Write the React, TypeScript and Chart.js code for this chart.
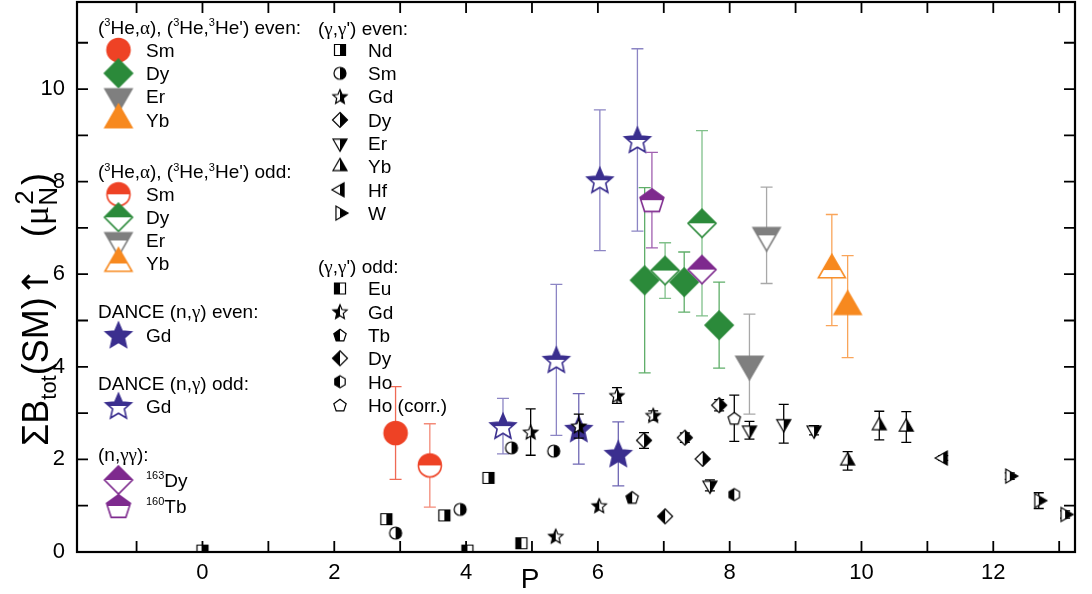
import { useEffect, useRef } from 'react';
import { Chart, registerables } from 'chart.js';

Chart.register(...registerables);

const SANS = '"Liberation Sans", Arial, Helvetica, sans-serif';
const SERIF = '"Liberation Serif", "Times New Roman", serif';
const ARROW = '"DejaVu Sans", sans-serif';

// ---------- data: pairing parameter P vs. summed M1 strength ----------
// (3He,α), (3He,3He') even-even nuclei
const heEvenSmP = [2.93];
const heEvenSmB = [2.57];
const heEvenSmErr = [1.0];
const heEvenDyP = [6.71, 7.31, 7.84];
const heEvenDyB = [5.87, 5.83, 4.9];
const heEvenDyErr = [2.0, 0.65, 0.93];
const heEvenErP = [8.3];
const heEvenErB = [4.06];
const heEvenErErr = [1.08];
const heEvenYbP = [9.79];
const heEvenYbB = [5.3];
const heEvenYbErr = [1.1];

// (3He,α), (3He,3He') odd nuclei
const heOddSmP = [3.45];
const heOddSmB = [1.87];
const heOddSmErr = [0.9];
const heOddDyP = [7.02, 7.58];
const heOddDyB = [6.08, 7.1];
const heOddDyErr = [0.6, 2.0];
const heOddErP = [8.56];
const heOddErB = [6.84];
const heOddErErr = [1.04];
const heOddYbP = [9.55];
const heOddYbB = [6.09];
const heOddYbErr = [1.2];

// DANCE (n,γ)
const danceEvenGdP = [5.71, 6.31];
const danceEvenGdB = [2.66, 2.12];
const danceEvenGdErr = [0.76, 0.69];
const danceOddGdP = [4.56, 5.37, 6.03, 6.6];
const danceOddGdB = [2.72, 4.15, 8.03, 8.9];
const danceOddGdErr = [0.6, 1.63, 1.52, 1.97];

// (n,γγ)
const nggDyP = [7.58];
const nggDyB = [6.1];
const nggTbP = [6.82];
const nggTbB = [7.6];
const nggTbErr = [1.03];

// (γ,γ') even
const ggNdP = [0, 2.79, 3.67, 4.34];
const ggNdB = [0.03, 0.71, 0.79, 1.6];
const ggSmP = [2.93, 3.91, 4.69, 5.33];
const ggSmB = [0.41, 0.92, 2.25, 2.18];
const ggGdP = [4.98, 5.71, 6.29, 6.84];
const ggGdB = [2.59, 2.72, 3.38, 2.95];
const ggGdErr = [0.5, 0.26, 0.17, 0.1];
const ggDyP = [6.7, 7.32, 7.59, 7.84];
const ggDyB = [2.41, 2.47, 2.01, 3.17];
const ggDyErr = [0.17, 0.1, 0.05, 0.12];
const ggErP = [7.7, 8.3, 8.82, 9.28];
const ggErB = [1.44, 2.63, 2.77, 2.63];
const ggErErr = [0.12, 0.19, 0.42, 0.1];
const ggYbP = [9.79, 10.27, 10.68];
const ggYbB = [1.97, 2.73, 2.7];
const ggYbErr = [0.2, 0.31, 0.33];
const ggHfP = [11.24];
const ggHfB = [2.03];
const ggHfErr = [0.05];
const ggWP = [12.25, 12.69, 13.09];
const ggWB = [1.64, 1.11, 0.81];
const ggWErr = [0.07, 0.17, 0.08];

// (γ,γ') odd
const ggEuP = [4.02, 4.84];
const ggEuB = [0.03, 0.19];
const ggOddGdP = [5.36, 6.02];
const ggOddGdB = [0.34, 1.0];
const ggTbP = [6.52];
const ggTbB = [1.18];
const ggOddDyP = [7.02];
const ggOddDyB = [0.77];
const ggHoP = [8.07];
const ggHoB = [1.24];
const ggHoCorrP = [8.07];
const ggHoCorrB = [2.89];
const ggHoCorrErr = [0.5];

// axes
const xRange = [-1.904, 13.24];
const yRange = [0, 11.88];
const xLabelled = [0, 2, 4, 6, 8, 10, 12];
const yLabelled = [0, 2, 4, 6, 8, 10];

// ---------- marker drawing ----------
type Shape =
  | 'circle' | 'square' | 'diamond' | 'triUp' | 'triDown'
  | 'triLeft' | 'triRight' | 'star' | 'pentagon' | 'hexagon';
type Fill = 'full' | 'left' | 'right' | 'top' | 'none';

function tracePath(ctx: CanvasRenderingContext2D, shape: Shape, cx: number, cy: number, s: number) {
  const r = s / 2;
  const poly = (pts: number[][]) => {
    ctx.moveTo(cx + pts[0][0], cy + pts[0][1]);
    for (let i = 1; i < pts.length; i++) ctx.lineTo(cx + pts[i][0], cy + pts[i][1]);
    ctx.closePath();
  };
  const h = s * 0.866;
  switch (shape) {
    case 'circle':
      ctx.arc(cx, cy, r, 0, Math.PI * 2);
      break;
    case 'square':
      ctx.rect(cx - r, cy - r, s, s);
      break;
    case 'diamond':
      poly([[0, -r], [r, 0], [0, r], [-r, 0]]);
      break;
    case 'triUp':
      poly([[0, (-2 * h) / 3], [r, h / 3], [-r, h / 3]]);
      break;
    case 'triDown':
      poly([[0, (2 * h) / 3], [r, -h / 3], [-r, -h / 3]]);
      break;
    case 'triLeft':
      poly([[(-2 * h) / 3, 0], [h / 3, -r], [h / 3, r]]);
      break;
    case 'triRight':
      poly([[(2 * h) / 3, 0], [-h / 3, -r], [-h / 3, r]]);
      break;
    case 'star': {
      const pts: number[][] = [];
      for (let k = 0; k < 10; k++) {
        const a = -Math.PI / 2 + (k * Math.PI) / 5;
        const rr = k % 2 === 0 ? r : r * 0.46;
        pts.push([rr * Math.cos(a), rr * Math.sin(a) + r * 0.08]);
      }
      poly(pts);
      break;
    }
    case 'pentagon': {
      const pts: number[][] = [];
      for (let k = 0; k < 5; k++) {
        const a = -Math.PI / 2 + (k * 2 * Math.PI) / 5;
        pts.push([r * Math.cos(a), r * Math.sin(a) + r * 0.1]);
      }
      poly(pts);
      break;
    }
    case 'hexagon': {
      const pts: number[][] = [];
      for (let k = 0; k < 6; k++) {
        const a = -Math.PI / 2 + (k * Math.PI) / 3;
        pts.push([r * Math.cos(a), r * Math.sin(a)]);
      }
      poly(pts);
      break;
    }
  }
}

function makeMarker(shape: Shape, size: number, color: string, fill: Fill, lw: number) {
  let d = Math.ceil(size * 1.3) + 4;
  if (d % 2) d += 1;
  const c = document.createElement('canvas');
  c.width = d;
  c.height = d;
  const ctx = c.getContext('2d')!;
  const cx = d / 2;
  const cy = d / 2;
  const path = () => {
    ctx.beginPath();
    tracePath(ctx, shape, cx, cy, size);
  };
  path();
  ctx.fillStyle = '#ffffff';
  ctx.fill();
  if (fill !== 'none') {
    ctx.save();
    path();
    ctx.clip();
    ctx.fillStyle = color;
    if (fill === 'full') ctx.fillRect(0, 0, d, d);
    else if (fill === 'right') ctx.fillRect(cx, 0, d, d);
    else if (fill === 'left') ctx.fillRect(0, 0, cx, d);
    else if (fill === 'top') ctx.fillRect(0, 0, d, cy);
    ctx.restore();
  }
  path();
  ctx.strokeStyle = color;
  ctx.lineWidth = lw;
  ctx.lineJoin = 'miter';
  ctx.stroke();
  return c;
}

// ---------- series ----------
const RED = '#ee4225';
const GREEN = '#2b8a3a';
const GRAY = '#7f7f7f';
const ORANGE = '#f7891f';
const BLUE = '#3b2f8f';
const PURPLE = '#7e2a8e';
const BLACK = '#000000';

interface Series {
  key: string;
  P: number[];
  B: number[];
  err?: number[];
  shape: Shape;
  size: number;
  color: string;
  fill: Fill;
  lw: number;
  errColor: string;
  cap: number;
  layer: number;
}

const big = (key: string, P: number[], B: number[], err: number[] | undefined, shape: Shape, size: number, color: string, fill: Fill, errColor: string, layer = 2): Series => ({
  key, P, B, err, shape, size, color, fill, lw: 1.6, errColor, cap: 12, layer,
});
const small = (key: string, P: number[], B: number[], err: number[] | undefined, shape: Shape, size: number, fill: Fill): Series => ({
  key, P, B, err, shape, size, color: BLACK, fill, lw: 1.2, errColor: BLACK, cap: 10, layer: 0,
});

const SERIES: Series[] = [
  big('heEvenSm', heEvenSmP, heEvenSmB, heEvenSmErr, 'circle', 23, RED, 'full', '#ef6a55'),
  big('heEvenDy', heEvenDyP, heEvenDyB, heEvenDyErr, 'diamond', 28, GREEN, 'full', '#5fae69'),
  big('heEvenEr', heEvenErP, heEvenErB, heEvenErErr, 'triDown', 27, GRAY, 'full', '#a8a8a8'),
  big('heEvenYb', heEvenYbP, heEvenYbB, heEvenYbErr, 'triUp', 27, ORANGE, 'full', '#f9a55a'),
  big('heOddSm', heOddSmP, heOddSmB, heOddSmErr, 'circle', 23, RED, 'top', '#f38a78'),
  big('heOddDy', heOddDyP, heOddDyB, heOddDyErr, 'diamond', 28, GREEN, 'top', '#80c08a'),
  big('heOddEr', heOddErP, heOddErB, heOddErErr, 'triDown', 27, GRAY, 'top', '#a8a8a8'),
  big('heOddYb', heOddYbP, heOddYbB, heOddYbErr, 'triUp', 27, ORANGE, 'top', '#f9a55a'),
  big('danceEvenGd', danceEvenGdP, danceEvenGdB, danceEvenGdErr, 'star', 27, BLUE, 'full', '#6f67b4'),
  big('danceOddGd', danceOddGdP, danceOddGdB, danceOddGdErr, 'star', 27, BLUE, 'top', '#8c85c4'),
  big('nggDy', nggDyP, nggDyB, undefined, 'diamond', 28, PURPLE, 'top', '#a060b0', 1),
  big('nggTb', nggTbP, nggTbB, nggTbErr, 'pentagon', 25, PURPLE, 'top', '#a060b0', 1),
  small('ggNd', ggNdP, ggNdB, undefined, 'square', 11, 'right'),
  small('ggSm', ggSmP, ggSmB, undefined, 'circle', 12, 'right'),
  small('ggGd', ggGdP, ggGdB, ggGdErr, 'star', 15, 'right'),
  small('ggDy', ggDyP, ggDyB, ggDyErr, 'diamond', 15, 'right'),
  small('ggEr', ggErP, ggErB, ggErErr, 'triDown', 14, 'right'),
  small('ggYb', ggYbP, ggYbB, ggYbErr, 'triUp', 14, 'right'),
  small('ggHf', ggHfP, ggHfB, ggHfErr, 'triLeft', 14, 'right'),
  small('ggW', ggWP, ggWB, ggWErr, 'triRight', 14, 'right'),
  small('ggEu', ggEuP, ggEuB, undefined, 'square', 11, 'left'),
  small('ggOddGd', ggOddGdP, ggOddGdB, undefined, 'star', 15, 'left'),
  small('ggTb', ggTbP, ggTbB, undefined, 'pentagon', 13, 'left'),
  small('ggOddDy', ggOddDyP, ggOddDyB, undefined, 'diamond', 15, 'left'),
  small('ggHo', ggHoP, ggHoB, undefined, 'hexagon', 12, 'left'),
  small('ggHoCorr', ggHoCorrP, ggHoCorrB, ggHoCorrErr, 'pentagon', 13, 'none'),
];

// ---------- rich text ----------
type Seg = { t: string; k?: 'sup' | 'sub' | 'subsup'; t2?: string; serif?: boolean; fam?: string; rel?: number };

const fontFor = (size: number, s: Seg) =>
  `${s.k ? Math.round(size * (s.rel || 0.6)) : size}px ${s.fam || (s.serif ? SERIF : SANS)}`;

function drawRich(ctx: CanvasRenderingContext2D, segs: Seg[], x: number, baseline: number, size: number) {
  ctx.textAlign = 'left';
  ctx.textBaseline = 'alphabetic';
  let cx = x;
  for (const s of segs) {
    ctx.font = fontFor(size, s);
    if (!s.k) {
      ctx.fillText(s.t, cx, baseline);
      cx += ctx.measureText(s.t).width;
    } else if (s.k === 'sup') {
      ctx.fillText(s.t, cx, baseline - size * 0.4);
      cx += ctx.measureText(s.t).width;
    } else if (s.k === 'sub') {
      ctx.fillText(s.t, cx, baseline + size * 0.22);
      cx += ctx.measureText(s.t).width;
    } else {
      ctx.fillText(s.t, cx, baseline + size * 0.24);
      ctx.fillText(s.t2 || '', cx + 1, baseline - size * 0.42);
      cx += Math.max(ctx.measureText(s.t).width, ctx.measureText(s.t2 || '').width) + 2;
    }
  }
}

// ---------- legend ----------
const T = (t: string): Seg => ({ t });
const G = (t: string): Seg => ({ t, serif: true });
const SUP = (t: string): Seg => ({ t, k: 'sup' });

const heHeader = (parity: string): Seg[] => [
  T('('), SUP('3'), T('He,'), G('α'), T('), ('), SUP('3'), T('He,'), SUP('3'), T(`He') ${parity}:`),
];
const ggHeader = (parity: string): Seg[] => [T('('), G('γ'), T(','), G('γ'), T(`') ${parity}:`)];

interface LegendRow { y: number; segs: Seg[]; key?: string }

const legendCol1: LegendRow[] = [
  { y: 27, segs: heHeader('even') },
  { y: 50, key: 'heEvenSm', segs: [T('Sm')] },
  { y: 73.3, key: 'heEvenDy', segs: [T('Dy')] },
  { y: 96.6, key: 'heEvenEr', segs: [T('Er')] },
  { y: 119.9, key: 'heEvenYb', segs: [T('Yb')] },
  { y: 171.5, segs: heHeader('odd') },
  { y: 194.3, key: 'heOddSm', segs: [T('Sm')] },
  { y: 217.3, key: 'heOddDy', segs: [T('Dy')] },
  { y: 240.5, key: 'heOddEr', segs: [T('Er')] },
  { y: 263.5, key: 'heOddYb', segs: [T('Yb')] },
  { y: 311.5, segs: [T('DANCE (n,'), G('γ'), T(') even:')] },
  { y: 335, key: 'danceEvenGd', segs: [T('Gd')] },
  { y: 383, segs: [T('DANCE (n,'), G('γ'), T(') odd:')] },
  { y: 406, key: 'danceOddGd', segs: [T('Gd')] },
  { y: 454, segs: [T('(n,'), G('γγ'), T('):')] },
  { y: 480, key: 'nggDy', segs: [SUP('163'), T('Dy')] },
  { y: 506, key: 'nggTb', segs: [SUP('160'), T('Tb')] },
];

const legendCol2: LegendRow[] = [
  { y: 28, segs: ggHeader('even') },
  { y: 50, key: 'ggNd', segs: [T('Nd')] },
  { y: 73.3, key: 'ggSm', segs: [T('Sm')] },
  { y: 96.6, key: 'ggGd', segs: [T('Gd')] },
  { y: 119.9, key: 'ggDy', segs: [T('Dy')] },
  { y: 143.2, key: 'ggEr', segs: [T('Er')] },
  { y: 166.5, key: 'ggYb', segs: [T('Yb')] },
  { y: 189.8, key: 'ggHf', segs: [T('Hf')] },
  { y: 213.1, key: 'ggW', segs: [T('W')] },
  { y: 266.5, segs: ggHeader('odd') },
  { y: 288.5, key: 'ggEu', segs: [T('Eu')] },
  { y: 311.7, key: 'ggOddGd', segs: [T('Gd')] },
  { y: 335, key: 'ggTb', segs: [T('Tb')] },
  { y: 358.3, key: 'ggOddDy', segs: [T('Dy')] },
  { y: 381.7, key: 'ggHo', segs: [T('Ho')] },
  { y: 405, key: 'ggHoCorr', segs: [T('Ho (corr.)')] },
];

const yTitle: Seg[] = [
  T('ΣB'), { t: 'tot', k: 'sub' }, T('(SM)'), { t: '↑', fam: ARROW }, T('   ('), G('μ'),
  { t: 'N', k: 'subsup', t2: '2', rel: 0.72 }, T(')'),
];

// ---------- plugins ----------
const errorBarPlugin = {
  id: 'errorBars',
  beforeDatasetDraw(chart: any, args: any) {
    const ds = chart.data.datasets[args.index];
    if (!ds.errors) return;
    const { ctx, chartArea: a } = chart;
    const ys = chart.scales.y;
    ctx.save();
    ctx.beginPath();
    ctx.rect(a.left, a.top, a.right - a.left, a.bottom - a.top);
    ctx.clip();
    ctx.strokeStyle = ds.errColor;
    ctx.lineWidth = 1.3;
    args.meta.data.forEach((pt: any, i: number) => {
      const e = ds.errors[i];
      if (!e) return;
      const v = ds.data[i].y;
      const x = pt.x;
      const y1 = ys.getPixelForValue(v + e);
      const y2 = ys.getPixelForValue(v - e);
      const hw = ds.capWidth / 2;
      ctx.beginPath();
      ctx.moveTo(x, y1);
      ctx.lineTo(x, y2);
      ctx.moveTo(x - hw, y1);
      ctx.lineTo(x + hw, y1);
      ctx.moveTo(x - hw, y2);
      ctx.lineTo(x + hw, y2);
      ctx.stroke();
    });
    ctx.restore();
  },
};

const intsIn = (lo: number, hi: number) => {
  const out: number[] = [];
  for (let v = Math.ceil(lo); v <= Math.floor(hi); v++) out.push(v);
  return out;
};

function makeDecorPlugin(markers: Record<string, HTMLCanvasElement>) {
  return {
    id: 'decor',
    afterDraw(chart: any) {
      const { ctx, chartArea: a } = chart;
      const xs = chart.scales.x;
      const ys = chart.scales.y;
      ctx.save();
      ctx.strokeStyle = '#000';
      // inward ticks on all four sides
      ctx.lineWidth = 1.8;
      const tl = 11;
      ctx.beginPath();
      intsIn(xs.min, xs.max).forEach((v) => {
        const px = xs.getPixelForValue(v);
        ctx.moveTo(px, a.bottom);
        ctx.lineTo(px, a.bottom - tl);
        ctx.moveTo(px, a.top);
        ctx.lineTo(px, a.top + tl);
      });
      intsIn(ys.min, ys.max).forEach((v) => {
        const py = ys.getPixelForValue(v);
        ctx.moveTo(a.left, py);
        ctx.lineTo(a.left + tl, py);
        ctx.moveTo(a.right, py);
        ctx.lineTo(a.right - tl, py);
      });
      ctx.stroke();
      // frame
      ctx.lineWidth = 2.2;
      ctx.strokeRect(a.left, a.top, a.right - a.left, a.bottom - a.top);

      ctx.fillStyle = '#000';
      // x-axis title
      ctx.font = `28px ${SANS}`;
      ctx.textAlign = 'center';
      ctx.textBaseline = 'middle';
      ctx.fillText('P', 530, 580);

      // y-axis title, read bottom to top
      ctx.save();
      ctx.translate(48, 446);
      ctx.rotate(-Math.PI / 2);
      drawRich(ctx, yTitle, 0, 0, 36);
      ctx.restore();

      // legend
      const LS = 19;
      const drawCol = (rows: LegendRow[], headX: number, iconX: number, textX: number) => {
        rows.forEach((r) => {
          const base = r.y + LS * 0.36;
          if (!r.key) {
            drawRich(ctx, r.segs, headX, base, LS);
          } else {
            const m = markers[r.key];
            ctx.drawImage(m, iconX - m.width / 2, r.y - m.height / 2);
            drawRich(ctx, r.segs, textX, base, LS);
          }
        });
      };
      drawCol(legendCol1, 98, 118.5, 146);
      drawCol(legendCol2, 318, 340, 368);
      ctx.restore();
    },
  };
}

export default function App() {
  const ref = useRef<HTMLCanvasElement>(null);

  useEffect(() => {
    document.body.style.margin = '0';
    const canvas = ref.current;
    if (!canvas) return;

    const markers: Record<string, HTMLCanvasElement> = {};
    SERIES.forEach((s) => {
      markers[s.key] = makeMarker(s.shape, s.size, s.color, s.fill, s.lw);
    });

    const datasets = SERIES.map((s) => ({
      label: s.key,
      data: s.P.map((p, j) => ({ x: p, y: s.B[j] })),
      pointStyle: markers[s.key],
      pointRadius: s.size / 2,
      pointHoverRadius: s.size / 2,
      order: s.layer,
      clip: 0,
      errors: s.err,
      errColor: s.errColor,
      capWidth: s.cap,
    }));

    const tickFont = { size: 22, family: SANS };
    const chart = new Chart(canvas, {
      type: 'scatter',
      data: { datasets: datasets as any },
      options: {
        responsive: false,
        animation: false,
        events: [],
        layout: { autoPadding: false, padding: { top: 2, right: 17, left: 0, bottom: 0 } },
        plugins: { legend: { display: false }, tooltip: { enabled: false } },
        scales: {
          x: {
            type: 'linear',
            min: xRange[0],
            max: xRange[1],
            afterFit: (s: any) => {
              s.height = 42;
              s.paddingLeft = 0;
              s.paddingRight = 0;
            },
            grid: { display: false, drawTicks: false },
            border: { display: false },
            ticks: {
              stepSize: 1,
              includeBounds: false,
              autoSkip: false,
              maxRotation: 0,
              padding: 8,
              color: '#000',
              font: tickFont,
              callback: (v: any) => (xLabelled.includes(Number(v)) ? String(v) : null),
            },
          },
          y: {
            type: 'linear',
            min: yRange[0],
            max: yRange[1],
            afterFit: (s: any) => {
              s.width = 77;
              s.paddingTop = 0;
              s.paddingBottom = 0;
            },
            grid: { display: false, drawTicks: false },
            border: { display: false },
            ticks: {
              stepSize: 1,
              includeBounds: false,
              autoSkip: false,
              padding: 12,
              color: '#000',
              font: tickFont,
              callback: (v: any) => (yLabelled.includes(Number(v)) ? String(v) : null),
            },
          },
        },
      },
      plugins: [errorBarPlugin, makeDecorPlugin(markers)],
    });

    return () => chart.destroy();
  }, []);

  return (
    <div style={{ position: 'absolute', left: 0, top: 0, width: 1092, height: 594 }}>
      <canvas ref={ref} width={1092} height={594} />
    </div>
  );
}
